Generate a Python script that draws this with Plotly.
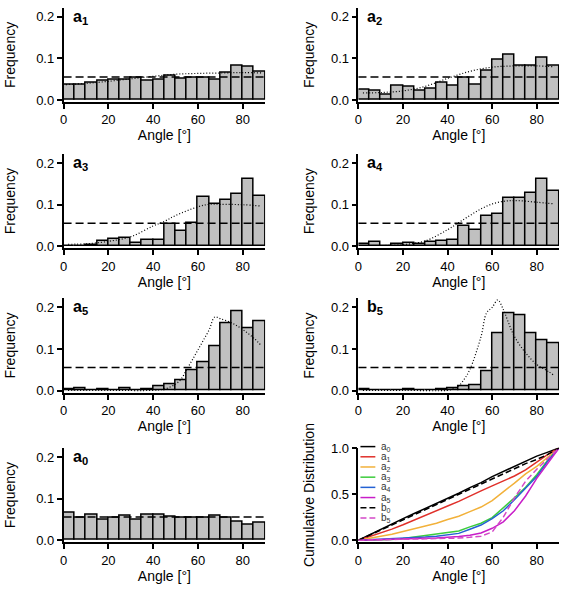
import plotly.graph_objects as go

W, H = 563, 592
FONT = "Liberation Sans, Arial, sans-serif"

# ---------------- data ----------------
angle_bins = [2.5, 7.5, 12.5, 17.5, 22.5, 27.5, 32.5, 37.5, 42.5,
              47.5, 52.5, 57.5, 62.5, 67.5, 72.5, 77.5, 82.5, 87.5]
bin_width = 5
uniform_level = 0.0556

hist_a1 = [0.038, 0.038, 0.042, 0.046, 0.048, 0.050, 0.054, 0.047, 0.050,
           0.059, 0.052, 0.054, 0.053, 0.050, 0.066, 0.083, 0.081, 0.068]
hist_a2 = [0.024, 0.022, 0.014, 0.034, 0.033, 0.022, 0.028, 0.043, 0.034,
           0.053, 0.038, 0.071, 0.098, 0.109, 0.082, 0.083, 0.102, 0.083]
hist_a3 = [0.001, 0.002, 0.004, 0.012, 0.017, 0.020, 0.009, 0.015, 0.015,
           0.054, 0.038, 0.056, 0.119, 0.103, 0.111, 0.127, 0.163, 0.121]
hist_a4 = [0.005, 0.010, 0.001, 0.005, 0.007, 0.006, 0.010, 0.013, 0.016,
           0.049, 0.039, 0.074, 0.077, 0.116, 0.116, 0.129, 0.162, 0.132]
hist_a5 = [0.004, 0.005, 0.001, 0.003, 0.002, 0.005, 0.002, 0.004, 0.010,
           0.016, 0.024, 0.049, 0.068, 0.107, 0.161, 0.190, 0.151, 0.167]
hist_b5 = [0.003, 0.001, 0.001, 0.002, 0.003, 0.001, 0.001, 0.004, 0.006,
           0.010, 0.012, 0.046, 0.139, 0.186, 0.181, 0.138, 0.120, 0.114]
hist_a0 = [0.065, 0.055, 0.062, 0.049, 0.055, 0.058, 0.048, 0.062, 0.061,
           0.057, 0.054, 0.053, 0.055, 0.059, 0.055, 0.045, 0.038, 0.042]

# dotted model curves
fit_a1_x = [1, 10, 20, 30, 40, 50, 60, 70, 80, 89]
fit_a1_y = [0.037, 0.040, 0.045, 0.051, 0.057, 0.062, 0.064, 0.065, 0.066, 0.065]
fit_a2_x = [2, 10, 20, 30, 40, 50, 60, 70, 80, 88]
fit_a2_y = [0.017, 0.018, 0.022, 0.033, 0.052, 0.069, 0.079, 0.082, 0.082, 0.080]
fit_a3_x = [2, 10, 20, 30, 40, 45, 50, 60, 65, 70, 80, 88]
fit_a3_y = [0.005, 0.006, 0.012, 0.023, 0.049, 0.060, 0.074, 0.095, 0.101, 0.101, 0.100, 0.097]
fit_a4_x = [12, 20, 30, 40, 45, 50, 55, 60, 65, 70, 80, 88]
fit_a4_y = [0.002, 0.004, 0.013, 0.040, 0.057, 0.074, 0.090, 0.102, 0.108, 0.110, 0.106, 0.102]
fit_a5_x = [2, 20, 40, 45, 50, 52.5, 55, 58, 60, 62.5, 65, 67.5, 70, 75, 80, 85, 88]
fit_a5_y = [0.001, 0.001, 0.001, 0.004, 0.016, 0.028, 0.051, 0.079, 0.098, 0.122,
            0.146, 0.177, 0.173, 0.163, 0.147, 0.126, 0.110]
fit_b5_x = [2, 20, 40, 42, 45, 47.5, 50, 55, 57.5, 60, 62.5, 65, 67.5, 70, 75, 80, 85, 88]
fit_b5_y = [0.001, 0.001, 0.001, 0.004, 0.012, 0.028, 0.051, 0.130, 0.187, 0.200,
            0.218, 0.195, 0.161, 0.130, 0.091, 0.063, 0.047, 0.036]

# cumulative distributions
cdf_angle = [0, 5, 10, 15, 20, 25, 30, 35, 40, 45, 50, 55, 60, 65, 70, 75, 80, 85, 90]
cdf_a0 = [0, 0.06, 0.12, 0.18, 0.235, 0.29, 0.345, 0.395, 0.45, 0.51, 0.57, 0.625,
          0.69, 0.745, 0.805, 0.86, 0.912, 0.955, 1.0]
cdf_a1 = [0, 0.039, 0.078, 0.121, 0.168, 0.217, 0.268, 0.323, 0.371, 0.422, 0.482,
          0.535, 0.59, 0.645, 0.696, 0.763, 0.848, 0.931, 1.0]
cdf_a2 = [0, 0.025, 0.045, 0.065, 0.095, 0.125, 0.155, 0.185, 0.225, 0.26, 0.31,
          0.36, 0.43, 0.52, 0.62, 0.72, 0.80, 0.90, 1.0]
cdf_a3 = [0, 0.002, 0.004, 0.008, 0.02, 0.035, 0.05, 0.065, 0.08, 0.1, 0.145,
          0.185, 0.245, 0.35, 0.46, 0.575, 0.71, 0.87, 1.0]
cdf_a4 = [0, 0.005, 0.015, 0.018, 0.022, 0.028, 0.035, 0.045, 0.06, 0.075, 0.12,
          0.165, 0.235, 0.32, 0.44, 0.56, 0.69, 0.86, 1.0]
cdf_a5 = [0, 0.005, 0.01, 0.012, 0.015, 0.018, 0.022, 0.025, 0.03, 0.04, 0.055,
          0.08, 0.13, 0.2, 0.32, 0.48, 0.67, 0.83, 1.0]
cdf_b0 = [0, 0.055, 0.115, 0.17, 0.225, 0.28, 0.335, 0.39, 0.445, 0.5, 0.555,
          0.61, 0.665, 0.72, 0.775, 0.83, 0.876, 0.93, 1.0]
cdf_b5 = [0, 0.003, 0.005, 0.006, 0.008, 0.01, 0.012, 0.014, 0.018, 0.024, 0.033,
          0.045, 0.09, 0.25, 0.46, 0.64, 0.77, 0.885, 1.0]

x_ticks = [0, 20, 40, 60, 80]
freq_ticks = [0.0, 0.1, 0.2]
cdf_ticks = [0.0, 0.5, 1.0]

# ---------------- layout helpers ----------------
def pxx(x):
    return x / W

def pxy(y):
    return 1 - y / H

col_px = [(60, 263), (357, 559)]
row_px = [(0.65, 97.1), (150, 246.4), (297.3, 393.8), (449.9, 546.4)]
ytitle_standoff = [17, 13]

panels = [
    ("a", "1", hist_a1, fit_a1_x, fit_a1_y, 0, 0),
    ("a", "2", hist_a2, fit_a2_x, fit_a2_y, 0, 1),
    ("a", "3", hist_a3, fit_a3_x, fit_a3_y, 1, 0),
    ("a", "4", hist_a4, fit_a4_x, fit_a4_y, 1, 1),
    ("a", "5", hist_a5, fit_a5_x, fit_a5_y, 2, 0),
    ("b", "5", hist_b5, fit_b5_x, fit_b5_y, 2, 1),
    ("a", "0", hist_a0, None, None, 3, 0),
]

fig = go.Figure()
layout = dict(
    width=W, height=H, margin=dict(l=0, r=0, t=0, b=0),
    paper_bgcolor="white", plot_bgcolor="white",
    showlegend=False, font=dict(family=FONT, size=13, color="black"),
)

def axis_style():
    return dict(showline=True, linecolor="black", linewidth=1.5,
                ticks="outside", ticklen=5, tickwidth=1.5, tickcolor="black",
                showgrid=False, zeroline=False,
                tickfont=dict(family=FONT, size=13, color="black"))

shapes = []
annotations = []

for i, (letter, sub, hist, fx, fy, r, c) in enumerate(panels):
    n = i + 1
    xa = "x" if n == 1 else f"x{n}"
    ya = "y" if n == 1 else f"y{n}"
    fig.add_trace(go.Bar(x=angle_bins, y=hist, width=bin_width,
                         marker=dict(color="#c0c0c0", line=dict(color="black", width=1.5)),
                         xaxis=xa, yaxis=ya))
    if fx is not None:
        fig.add_trace(go.Scatter(x=fx, y=fy, mode="lines",
                                 line=dict(color="black", width=1.2, dash="1px,2px", shape="spline"),
                                 xaxis=xa, yaxis=ya))
    xs = axis_style()
    xs.update(domain=[pxx(col_px[c][0]), pxx(col_px[c][1])], range=[0, 90],
              tickvals=x_ticks, anchor=ya,
              title=dict(text="Angle [°]", font=dict(family=FONT, size=14), standoff=3))
    ys = axis_style()
    ys.update(domain=[pxy(row_px[r][1]), pxy(row_px[r][0])], range=[-0.005, 0.222],
              tickvals=freq_ticks, tickformat=".1f", anchor=xa,
              title=dict(text="Frequency", font=dict(family=FONT, size=14),
                         standoff=ytitle_standoff[c]))
    layout["xaxis" if n == 1 else f"xaxis{n}"] = xs
    layout["yaxis" if n == 1 else f"yaxis{n}"] = ys
    shapes.append(dict(type="line", xref=f"{xa} domain", yref=ya, x0=0, x1=1,
                       y0=uniform_level, y1=uniform_level,
                       line=dict(color="black", width=1.5, dash="8px,4px")))
    annotations.append(dict(xref=f"{xa} domain", yref=f"{ya} domain", x=0.035, y=0.9,
                            xanchor="left", yanchor="middle", showarrow=False,
                            text=f"<b>{letter}<sub>{sub}</sub></b>",
                            font=dict(family=FONT, size=16, color="black")))

# cumulative panel
cdf_series = [
    ("a", "0", cdf_a0, "black", "solid"),
    ("a", "1", cdf_a1, "#e0302a", "solid"),
    ("a", "2", cdf_a2, "#f2b13a", "solid"),
    ("a", "3", cdf_a3, "#3ccc3c", "solid"),
    ("a", "4", cdf_a4, "#2462d4", "solid"),
    ("a", "5", cdf_a5, "#c81ec8", "solid"),
    ("b", "0", cdf_b0, "black", "6px,3px"),
    ("b", "5", cdf_b5, "#d448c8", "6px,3px"),
]
for letter, sub, vals, color, dash in cdf_series:
    fig.add_trace(go.Scatter(x=cdf_angle, y=vals, mode="lines",
                             line=dict(color=color, width=1.5, dash=dash),
                             xaxis="x8", yaxis="y8"))
xs = axis_style()
xs.update(domain=[pxx(col_px[1][0]), pxx(col_px[1][1])], range=[0, 90],
          tickvals=x_ticks, anchor="y8",
          title=dict(text="Angle [°]", font=dict(family=FONT, size=14), standoff=3))
ys = axis_style()
ys.update(domain=[pxy(row_px[3][1]), pxy(row_px[3][0])], range=[-0.022, 1.002],
          tickvals=cdf_ticks, tickformat=".1f", anchor="x8",
          title=dict(text="Cumulative Distribution", font=dict(family=FONT, size=14),
                     standoff=ytitle_standoff[1]))
layout["xaxis8"] = xs
layout["yaxis8"] = ys

# legend (drawn manually, compact spacing)
leg_y0 = 448.7
leg_dy = 10.4
for k, (letter, sub, vals, color, dash) in enumerate(cdf_series):
    yy = pxy(leg_y0 + k * leg_dy)
    shapes.append(dict(type="line", xref="paper", yref="paper",
                       x0=pxx(359), x1=pxx(374), y0=yy, y1=yy,
                       line=dict(color=color, width=1.5, dash=dash)))
    annotations.append(dict(xref="paper", yref="paper", x=pxx(378), y=yy,
                            xanchor="left", yanchor="middle", showarrow=False,
                            text=f"{letter}<sub>{sub}</sub>",
                            font=dict(family=FONT, size=10, color="#333333")))

layout["shapes"] = shapes
layout["annotations"] = annotations
layout["bargap"] = 0
fig.update_layout(**layout)
fig.write_html("out.html",
               config={"displayModeBar": False},
               post_script="document.body.style.margin='0';document.body.style.padding='0';")
